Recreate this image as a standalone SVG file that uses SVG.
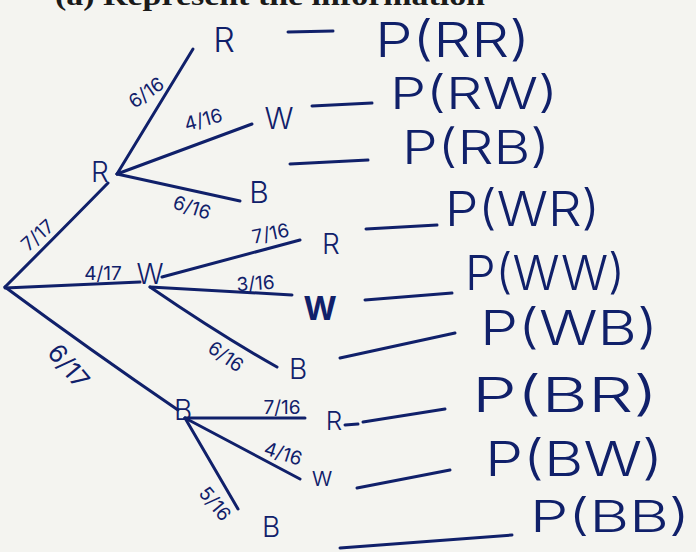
<svg xmlns="http://www.w3.org/2000/svg" width="696" height="552" viewBox="0 0 696 552">
  <style>
    .ink { stroke: #10206a; stroke-width: 3; stroke-linecap: round; fill: none; }
    .lbl { fill: #10206a; font-family: "Inter", "Liberation Sans", sans-serif; font-weight: 300; }
    .frac { font-size: 19px; font-weight: 400; }
    .node { font-size: 30px; }
    .out { font-size: 48px; }
    .head { fill: #1a1a1a; font-family: "Liberation Serif", "Times New Roman", serif; font-weight: bold; font-size: 28px; }
  </style>
  <rect width="696" height="552" fill="#f4f4f0"/>

  <!-- question heading, cut by the top edge -->
  <text class="head" x="55" y="5" textLength="430" lengthAdjust="spacingAndGlyphs">(a) Represent the information</text>

  <!-- branches and leaf-to-outcome dashes -->
  <g id="connectors">
    <path class="ink" d="M5,287 Q60,232 108,183"/>
    <path class="ink" d="M5,288 L140,282"/>
    <path class="ink" d="M5,287 Q90,350 178,410"/>

    <path class="ink" d="M117,174 L193,49"/>
    <path class="ink" d="M117,174 L252,124"/>
    <path class="ink" d="M117,174 L240,201"/>

    <path class="ink" d="M162,277 L300,240"/>
    <path class="ink" d="M150,287 L292,295"/>
    <path class="ink" d="M150,287 Q220,335 277,367"/>

    <path class="ink" d="M185,418 L305,418"/>
    <path class="ink" d="M185,418 L300,479"/>
    <path class="ink" d="M185,418 L238,509"/>

    <path class="ink" d="M288,32 L333,31"/>
    <path class="ink" d="M312,106 L372,103"/>
    <path class="ink" d="M290,164 L368,160"/>
    <path class="ink" d="M366,229 L437,225"/>
    <path class="ink" d="M365,300 L452,293"/>
    <path class="ink" d="M340,358 L455,333"/>
    <path class="ink" d="M345,425 L358,424 M363,422 L445,409"/>
    <path class="ink" d="M357,488 L450,470"/>
    <path class="ink" d="M340,548 L512,535"/>
  </g>

  <!-- branch probabilities -->
  <g id="probabilities" class="lbl frac">
    <text transform="translate(42,240) rotate(-42)" text-anchor="middle">7/17</text>
    <text transform="translate(150,98) rotate(-35)" text-anchor="middle">6/16</text>
    <text transform="translate(205,126) rotate(-15)" text-anchor="middle">4/16</text>
    <text transform="translate(190,214) rotate(18)" text-anchor="middle">6/16</text>
    <text transform="translate(103,280)" text-anchor="middle">4/17</text>
    <text transform="translate(272,240) rotate(-12)" text-anchor="middle">7/16</text>
    <text transform="translate(256,290) rotate(-4)" text-anchor="middle">3/16</text>
    <text transform="translate(222,362) rotate(35)" text-anchor="middle">6/16</text>
    <text transform="translate(62,372) rotate(50)" text-anchor="middle" font-size="25">6/17</text>
    <text transform="translate(282,414)" text-anchor="middle">7/16</text>
    <text transform="translate(281,460) rotate(18)" text-anchor="middle">4/16</text>
    <text transform="translate(210,508) rotate(50)" text-anchor="middle">5/16</text>
  </g>

  <!-- first draw -->
  <g id="n-R" class="lbl node"><text x="100" y="182" text-anchor="middle" font-size="28">R</text></g>
  <g id="n-W" class="lbl node"><text x="150" y="284" text-anchor="middle" font-size="28">W</text></g>
  <g id="n-B" class="lbl node"><text x="183" y="420" text-anchor="middle" font-size="28">B</text></g>

  <!-- second draw -->
  <g id="n-RR" class="lbl node"><text x="224" y="52" text-anchor="middle" font-size="34">R</text></g>
  <g id="n-RW" class="lbl node"><text x="279" y="129" text-anchor="middle">W</text></g>
  <g id="n-RB" class="lbl node"><text x="259" y="203" text-anchor="middle">B</text></g>
  <g id="n-WR" class="lbl node"><text x="331" y="254" text-anchor="middle" font-size="28">R</text></g>
  <g id="n-WW" class="lbl node"><text x="320" y="320" text-anchor="middle" font-size="32" font-weight="700">W</text></g>
  <g id="n-WB" class="lbl node"><text x="298" y="379" text-anchor="middle" font-size="28">B</text></g>
  <g id="n-BR" class="lbl node"><text x="334" y="430" text-anchor="middle" font-size="26">R</text></g>
  <g id="n-BW" class="lbl node"><text x="322" y="486" text-anchor="middle" font-size="26">w</text></g>
  <g id="n-BB" class="lbl node"><text x="271" y="537" text-anchor="middle" font-size="28">B</text></g>

  <!-- outcomes -->
  <g id="o-RR" class="lbl out"><text x="375" y="57" textLength="155" lengthAdjust="spacingAndGlyphs">P(RR)</text></g>
  <g id="o-RW" class="lbl out"><text x="390" y="109" font-size="44" textLength="168" lengthAdjust="spacingAndGlyphs">P(RW)</text></g>
  <g id="o-RB" class="lbl out"><text x="402" y="164" font-size="46" textLength="148" lengthAdjust="spacingAndGlyphs">P(RB)</text></g>
  <g id="o-WR" class="lbl out"><text x="445" y="226" textLength="155" lengthAdjust="spacingAndGlyphs">P(WR)</text></g>
  <g id="o-WW" class="lbl out"><text x="465" y="290" textLength="160" lengthAdjust="spacingAndGlyphs">P(WW)</text></g>
  <g id="o-WB" class="lbl out"><text x="480" y="345" textLength="178" lengthAdjust="spacingAndGlyphs">P(WB)</text></g>
  <g id="o-BR" class="lbl out"><text x="472" y="412" textLength="186" lengthAdjust="spacingAndGlyphs">P(BR)</text></g>
  <g id="o-BW" class="lbl out"><text x="485" y="476" textLength="178" lengthAdjust="spacingAndGlyphs">P(BW)</text></g>
  <g id="o-BB" class="lbl out"><text x="530" y="532" font-size="44" textLength="160" lengthAdjust="spacingAndGlyphs">P(BB)</text></g>
</svg>
